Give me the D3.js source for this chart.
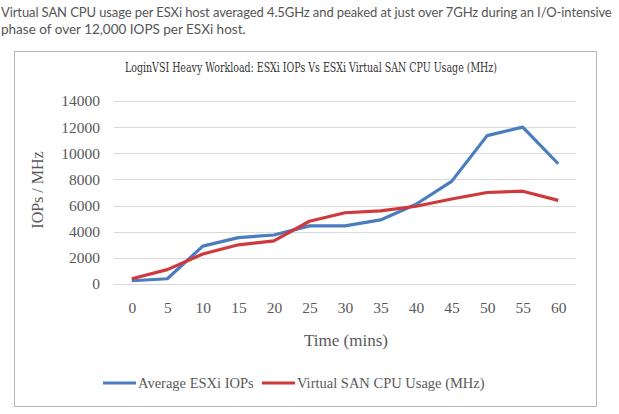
<!DOCTYPE html>
<html>
<head>
<meta charset="utf-8">
<script src="https://cdn.jsdelivr.net/npm/d3@7"></script>
<style>
  body { margin: 0; background: #fff; }
  svg { display: block; }
</style>
</head>
<body>
<div id="chart"></div>
<script>
const minutes = [0, 5, 10, 15, 20, 25, 30, 35, 40, 45, 50, 55, 60];
const avgIops = [250, 400, 2900, 3550, 3750, 4450, 4450, 4900, 6100, 7850, 11350, 12000, 9200];
const cpuMhz = [400, 1100, 2300, 3000, 3300, 4800, 5450, 5600, 5950, 6500, 7000, 7100, 6400];
const yTicks = [0, 2000, 4000, 6000, 8000, 10000, 12000, 14000];
const seriesNames = ["Average ESXi IOPs", "Virtual SAN CPU Usage (MHz)"];
const seriesColors = ["#4a7cc0", "#d0393b"];

const W = 619, H = 414;
const plot = { left: 114, right: 576, top: 101, bottom: 284 };
const serif = "'Liberation Serif', serif";

const svg = d3.select("#chart").append("svg")
    .attr("width", W)
    .attr("height", H);

// caption above the chart
const caption = svg.append("g")
    .attr("font-family", "Lato, 'Open Sans', sans-serif")
    .attr("font-size", 13)
    .attr("fill", "#555");
caption.append("text").attr("x", 1).attr("y", 17)
    .attr("letter-spacing", -0.1)
    .text("Virtual SAN CPU usage per ESXi host averaged 4.5GHz and peaked at just over 7GHz during an I/O-intensive");
caption.append("text").attr("x", 1).attr("y", 34)
    .attr("font-size", 13.5)
    .text("phase of over 12,000 IOPS per ESXi host.");

// chart frame
svg.append("rect")
    .attr("x", 14.5).attr("y", 51.5)
    .attr("width", 582).attr("height", 355)
    .attr("fill", "#fff")
    .attr("stroke", "#b8b8b8");

svg.append("text")
    .attr("x", 311).attr("y", 72)
    .attr("text-anchor", "middle")
    .attr("font-family", "'DejaVu Serif Condensed', 'Liberation Serif', serif")
    .attr("font-size", 12)
    .attr("fill", "#333")
    .attr("textLength", 372).attr("lengthAdjust", "spacingAndGlyphs")
    .text("LoginVSI Heavy Workload: ESXi IOPs Vs ESXi Virtual SAN CPU Usage (MHz)");

const x = d3.scalePoint()
    .domain(minutes)
    .range([plot.left, plot.right])
    .padding(0.5);

const y = d3.scaleLinear()
    .domain([0, 14000])
    .range([plot.bottom, plot.top]);

// gridlines
svg.append("g")
    .selectAll("line")
    .data(yTicks)
    .join("line")
    .attr("x1", plot.left).attr("x2", plot.right)
    .attr("y1", d => Math.round(y(d)) + 0.5)
    .attr("y2", d => Math.round(y(d)) + 0.5)
    .attr("stroke", "#d9d9d9");

const yAxis = d3.axisLeft(y).tickValues(yTicks).tickFormat(d3.format("d")).tickSize(0).tickPadding(0);
svg.append("g")
    .attr("transform", "translate(100,0)")
    .call(yAxis)
    .call(g => g.select(".domain").remove())
    .selectAll("text")
    .attr("font-family", serif)
    .attr("font-size", 15.5)
    .attr("fill", "#595959");

const xAxis = d3.axisBottom(x).tickSize(0).tickPadding(0);
svg.append("g")
    .attr("transform", "translate(0,302)")
    .call(xAxis)
    .call(g => g.select(".domain").remove())
    .selectAll("text")
    .attr("font-family", serif)
    .attr("font-size", 15.5)
    .attr("fill", "#595959");

svg.append("text")
    .attr("transform", "translate(43,190) rotate(-90)")
    .attr("text-anchor", "middle")
    .attr("font-family", serif)
    .attr("font-size", 16)
    .attr("fill", "#595959")
    .text("IOPs / MHz");

svg.append("text")
    .attr("x", 346).attr("y", 346)
    .attr("text-anchor", "middle")
    .attr("font-family", serif)
    .attr("font-size", 17)
    .attr("fill", "#595959")
    .text("Time (mins)");

const line = d3.line()
    .x((d, i) => x(minutes[i]))
    .y(d => y(d));

[avgIops, cpuMhz].forEach((vals, i) => {
    svg.append("path")
        .datum(vals)
        .attr("fill", "none")
        .attr("stroke", seriesColors[i])
        .attr("stroke-width", 3.2)
        .attr("stroke-linejoin", "round")
        .attr("d", line);
});

// legend
const legendX = [103, 262];
const legend = svg.append("g");
seriesNames.forEach((name, i) => {
    const g = legend.append("g").attr("transform", `translate(${legendX[i]},383)`);
    g.append("line")
        .attr("x1", 0).attr("x2", 33)
        .attr("stroke", seriesColors[i])
        .attr("stroke-width", 3);
    g.append("text")
        .attr("x", 35).attr("y", 5)
        .attr("font-family", serif)
        .attr("font-size", 14.5)
        .attr("fill", "#595959")
        .text(name);
});
</script>
</body>
</html>
